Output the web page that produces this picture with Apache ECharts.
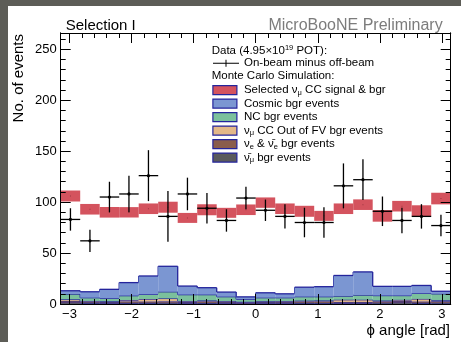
<!DOCTYPE html>
<html>
<head>
<meta charset="utf-8">
<script src="https://cdn.jsdelivr.net/npm/echarts@6/dist/echarts.min.js"></script>
<style>
  html, body { margin: 0; padding: 0; width: 461px; height: 342px; background: #5d5d57; overflow: hidden; }
  #chart { position: absolute; left: 8px; top: 6px; width: 453px; height: 336px; background: #ffffff; }
</style>
</head>
<body>
<div id="chart"></div>
<script>
// Binning of the phi angle histogram
const PHI_MIN = -Math.PI;
const PHI_MAX = Math.PI;
const NBINS = 20;

// Axis tick labels
const xTickValues = [-3, -2, -1, 0, 1, 2, 3];
const yTickValues = [0, 50, 100, 150, 200, 250];
const Y_MAX = 266;

// On-beam minus off-beam data (value and error per bin)
const dataVals = [83, 62, 105, 108, 126, 86, 108, 94, 82, 104, 92, 86, 80, 80, 116, 122, 91, 82, 86, 77];
const dataErrs = [11, 11, 15, 18, 25, 25, 16, 15, 11, 11, 10.5, 12, 14.5, 15, 22, 20, 14.5, 12.5, 12, 10.5];

// Monte Carlo total (selected numu CC signal & bgr) with its uncertainty band
const mcTotal = [106, 93, 90, 90, 93.5, 95, 84.5, 92.5, 89.5, 92.5, 99.5, 93.5, 91, 86.5, 93.5, 97.5, 86.5, 96, 91.5, 103.5];
const mcErr   = [5.4, 5.2, 5.2, 5.1, 5.2, 5.4, 4.9, 5.4, 4.9, 5.2, 5.1, 5.2, 5.4, 4.9, 5.2, 5.2, 5.7, 5.2, 5.4, 5.7];

// Background components (stacked from the bottom)
const numubarBg = [1.5, 1.0, 0.8, 1.0, 1.0, 1.2, 0.8, 1.0, 0.8, 0.6, 0.8, 0.8, 1.0, 1.0, 0.8, 0.8, 1.2, 1.5, 1.0, 1.2];
const nueBg     = [1.6, 1.2, 1.2, 1.4, 1.3, 1.3, 1.2, 1.5, 1.3, 1.0, 1.2, 1.3, 1.4, 1.5, 1.2, 1.2, 1.3, 1.6, 1.3, 1.5];
const oofvBg    = [1.5, 0.8, 0.7, 1.5, 2.6, 3.0, 0.9, 1.0, 0.8, 0.6, 0.8, 0.8, 0.9, 1.0, 2.2, 2.2, 0.9, 1.0, 2.7, 1.0];
const ncBg      = [5.2, 3.2, 2.9, 4.3, 4.6, 6.5, 6.3, 5.7, 4.3, 2.4, 3.4, 3.3, 3.9, 3.7, 3.6, 4.6, 4.9, 4.2, 5.5, 6.3];
const cosmicBg  = [3.2, 5.8, 8.8, 12.8, 18.0, 25.0, 8.4, 6.8, 4.5, 2.4, 4.8, 3.8, 9.3, 9.8, 20.2, 22.7, 9.0, 9.0, 7.7, 2.5];

const BIN_W = (PHI_MAX - PHI_MIN) / NBINS;
const edges = [];
for (let i = 0; i <= NBINS; i++) edges.push(PHI_MIN + i * BIN_W);

// minor tick positions every 0.2 rad and every 10 events
const xMinorValues = [];
for (let k = -15; k <= 15; k++) if (k % 5 !== 0) xMinorValues.push(k / 5);
const yMinorValues = [];
for (let v = 10; v < Y_MAX; v += 10) if (v % 50 !== 0) yMinorValues.push(v);

const FONT = 'Liberation Sans';
const OUTLINE = '#24249c';

function minusFmt(v) { return v < 0 ? '\u2212' + Math.abs(v) : String(v); }

function xAxisDef(position, values, len, labels) {
  return {
    type: 'value', position: position, min: PHI_MIN, max: PHI_MAX, z: 10,
    splitLine: { show: false },
    axisLine: { show: true, onZero: false, lineStyle: { color: '#000', width: 1 } },
    axisTick: { show: true, inside: true, length: len, customValues: values, lineStyle: { color: '#000', width: 1 } },
    axisLabel: labels ? {
      show: true, customValues: values, formatter: minusFmt, margin: 4,
      fontSize: 13, fontFamily: FONT, color: '#000'
    } : { show: false }
  };
}
function yAxisDef(position, values, len, labels) {
  return {
    type: 'value', position: position, min: 0, max: Y_MAX, z: 10,
    splitLine: { show: false },
    axisLine: { show: true, onZero: false, lineStyle: { color: '#000', width: 1 } },
    axisTick: { show: true, inside: true, length: len, customValues: values, lineStyle: { color: '#000', width: 1 } },
    axisLabel: labels ? {
      show: true, customValues: values, margin: 4,
      fontSize: 13, fontFamily: FONT, color: '#000'
    } : { show: false }
  };
}

const stackLayers = [
  { name: 'ν̄μ bgr events', vals: numubarBg, color: '#5a5a5c' },
  { name: 'νe & ν̄e bgr events', vals: nueBg, color: '#8a5d4c' },
  { name: 'νμ CC Out of FV bgr events', vals: oofvBg, color: '#e3b888' },
  { name: 'NC bgr events', vals: ncBg, color: '#7bc09c' },
  { name: 'Cosmic bgr events', vals: cosmicBg, color: '#7b96d2' }
];
const SIGNAL_NAME = 'Selected νμ CC signal & bgr';
const SIGNAL_COLOR = '#d4535e';
const DATA_NAME = 'On-beam minus off-beam';

const legendText = {
  'Selected νμ CC signal & bgr': '{t|Selected ν}{s|μ}{t| CC signal & bgr}',
  'Cosmic bgr events': '{t|Cosmic bgr events}',
  'NC bgr events': '{t|NC bgr events}',
  'νμ CC Out of FV bgr events': '{t|ν}{s|μ}{t| CC Out of FV bgr events}',
  'νe & ν̄e bgr events': '{t|ν}{s|e}{t| & ν\u0304}{s|e}{t| bgr events}',
  'ν̄μ bgr events': '{t|ν\u0304}{s|μ}{t| bgr events}',
  'On-beam minus off-beam': '{t|On-beam minus off-beam}'
};
const richStyles = {
  t: { fontSize: 11.5, fontFamily: FONT, color: '#000', lineHeight: 13.5 },
  s: { fontSize: 7.5, fontFamily: FONT, color: '#000', lineHeight: 13.5, padding: [5, 0, 0, 0] },
  p: { fontSize: 7.5, fontFamily: FONT, color: '#000', lineHeight: 13.5, padding: [0, 0, 6, 0] }
};

const series = [];

// Stacked background histograms: each bin is a filled block sitting on the layers below,
// outlined along its top with a step line.
const runningBase = new Array(NBINS).fill(0);
stackLayers.forEach(layer => {
  const rows = [];
  for (let i = 0; i < NBINS; i++) {
    const base = runningBase[i];
    const top = base + layer.vals[i];
    rows.push([i, base, top]);
  }
  for (let i = 0; i < NBINS; i++) runningBase[i] = rows[i][2];
  const tops = rows.map(r => r[2]);
  series.push({
    name: layer.name, type: 'custom', z: 2, animation: false,
    itemStyle: { color: layer.color },
    data: rows,
    renderItem: function (params, api) {
      const i = api.value(0), base = api.value(1), top = api.value(2);
      const a = api.coord([edges[i], top]);
      const b = api.coord([edges[i + 1], base]);
      const children = [
        { type: 'rect', shape: { x: a[0], y: a[1], width: b[0] - a[0], height: b[1] - a[1] },
          style: { fill: layer.color } },
        { type: 'line', shape: { x1: a[0], y1: a[1], x2: b[0], y2: a[1] },
          style: { stroke: OUTLINE, lineWidth: 1.3 } }
      ];
      if (i < NBINS - 1) {
        const n = api.coord([edges[i + 1], tops[i + 1]]);
        children.push({ type: 'line', shape: { x1: b[0], y1: a[1], x2: b[0], y2: n[1] },
          style: { stroke: OUTLINE, lineWidth: 1.3 } });
      }
      return { type: 'group', children: children };
    }
  });
});

// MC total uncertainty band
series.push({
  name: SIGNAL_NAME, type: 'custom', z: 3, animation: false,
  itemStyle: { color: SIGNAL_COLOR },
  data: mcTotal.map((v, i) => [i, v, mcErr[i]]),
  renderItem: function (params, api) {
    const i = api.value(0), v = api.value(1), e = api.value(2);
    const p0 = api.coord([edges[i], v + e]);
    const p1 = api.coord([edges[i + 1], v - e]);
    const c = api.coord([PHI_MIN + (i + 0.5) * BIN_W, v]);
    return {
      type: 'group', children: [
        { type: 'rect', shape: { x: p0[0], y: p0[1], width: p1[0] - p0[0], height: p1[1] - p0[1] },
          style: { fill: SIGNAL_COLOR } },
        { type: 'rect', shape: { x: c[0] - 0.5, y: c[1] - 0.5, width: 1, height: 1 },
          style: { fill: '#9a3a42' } }
      ]
    };
  }
});

// Data points with error bars spanning the bin width
series.push({
  name: DATA_NAME, type: 'custom', z: 4, animation: false,
  itemStyle: { color: '#000' },
  data: dataVals.map((v, i) => [i, v, dataErrs[i]]),
  renderItem: function (params, api) {
    const i = api.value(0), v = api.value(1), e = api.value(2);
    const xc = PHI_MIN + (i + 0.5) * BIN_W;
    const left = api.coord([edges[i], v]);
    const right = api.coord([edges[i + 1], v]);
    const top = api.coord([xc, v + e]);
    const bot = api.coord([xc, v - e]);
    const ls = { stroke: '#000', lineWidth: 1.3 };
    return {
      type: 'group', children: [
        { type: 'line', shape: { x1: left[0], y1: left[1], x2: right[0], y2: right[1] }, style: ls },
        { type: 'line', shape: { x1: top[0], y1: top[1], x2: bot[0], y2: bot[1] }, style: ls },
        { type: 'circle', shape: { cx: top[0], cy: left[1], r: 1.6 }, style: { fill: '#000' } }
      ]
    };
  }
});

const legendEntries = [SIGNAL_NAME, 'Cosmic bgr events', 'NC bgr events',
  'νμ CC Out of FV bgr events', 'νe & ν̄e bgr events', 'ν̄μ bgr events'];
const legendColors = {};
stackLayers.forEach(l => { legendColors[l.name] = l.color; });
legendColors[SIGNAL_NAME] = SIGNAL_COLOR;

const option = {
  animation: false,
  grid: { left: 52.7, top: 27, right: 10.3, bottom: 38, containLabel: false },
  xAxis: [
    xAxisDef('bottom', xTickValues, 10, true),
    xAxisDef('bottom', xMinorValues, 5, false),
    xAxisDef('top', xTickValues, 10, false),
    xAxisDef('top', xMinorValues, 5, false)
  ],
  yAxis: [
    yAxisDef('left', yTickValues, 10, true),
    yAxisDef('left', yMinorValues, 5, false),
    yAxisDef('right', yTickValues, 10, false),
    yAxisDef('right', yMinorValues, 5, false)
  ],
  legend: [
    {
      orient: 'vertical', left: 205, top: 50.5, padding: 0, itemGap: 0,
      itemWidth: 26, itemHeight: 9, selectedMode: false,
      data: [{ name: DATA_NAME, icon: 'path://M0,4H26V5H0Z M12.5,1H13.5V8H12.5Z',
               itemStyle: { color: '#000', borderWidth: 0 } }],
      formatter: n => legendText[n],
      textStyle: { fontSize: 11.5, fontFamily: FONT, color: '#000', lineHeight: 13.5, rich: richStyles }
    },
    {
      orient: 'vertical', left: 204.3, top: 77.3, padding: 0, itemGap: 0,
      itemWidth: 24, itemHeight: 9, selectedMode: false,
      data: legendEntries.map(n => ({
        name: n, icon: 'rect',
        itemStyle: { color: legendColors[n], borderColor: OUTLINE, borderWidth: 1.2 }
      })),
      formatter: n => legendText[n],
      textStyle: { fontSize: 11.5, fontFamily: FONT, color: '#000', lineHeight: 13.5, padding: [0, 0, 0, 2], rich: richStyles }
    }
  ],
  graphic: [
    { type: 'text', x: 57.7, y: 20.2, style: { text: 'Selection I', font: '15px "Liberation Sans"', fill: '#000', verticalAlign: 'middle', align: 'left' } },
    { type: 'text', x: 434.7, y: 19.2, style: { text: 'MicroBooNE Preliminary', font: '16px "Liberation Sans"', fill: '#7c7c7c', verticalAlign: 'middle', align: 'right' } },
    { type: 'text', x: 11, y: 28, rotation: Math.PI / 2,
      style: { text: 'No. of events', font: '15px "Liberation Sans"', fill: '#000', verticalAlign: 'middle', align: 'right' } },
    { type: 'text', x: 442, y: 325, style: { text: 'ϕ angle [rad]', font: '15px "Liberation Sans"', fill: '#000', verticalAlign: 'middle', align: 'right' } },
    { type: 'text', x: 203.7, y: 44.7,
      style: { text: '{t|Data (4.95×10}{p|19}{t| POT):}', rich: richStyles, verticalAlign: 'middle', align: 'left' } },
    { type: 'text', x: 203.7, y: 70,
      style: { text: '{t|Monte Carlo Simulation:}', rich: richStyles, verticalAlign: 'middle', align: 'left' } }
  ],
  series: series
};

const chart = echarts.init(document.getElementById('chart'), null, { renderer: 'canvas' });
chart.setOption(option);
</script>
</body>
</html>
